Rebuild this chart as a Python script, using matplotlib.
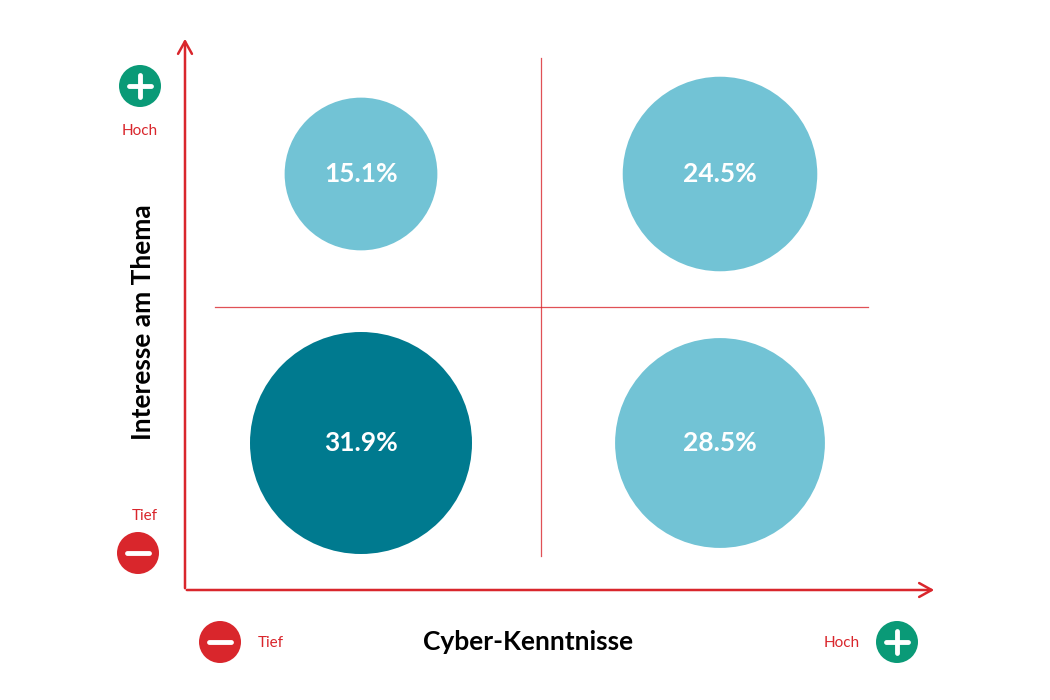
import matplotlib.pyplot as plt
from matplotlib.patches import Circle

# quadrant data: (column, row) -> share
labels = ["15.1%", "24.5%", "31.9%", "28.5%"]
values = [15.1, 24.5, 31.9, 28.5]
cols = [0, 1, 0, 1]   # 0 = Tief, 1 = Hoch (Cyber-Kenntnisse)
rows = [0, 0, 1, 1]   # 0 = Hoch, 1 = Tief (Interesse am Thema)
highlight = [False, False, True, False]

x_title = "Cyber-Kenntnisse"
y_title = "Interesse am Thema"
low_label = "Tief"
high_label = "Hoch"

RED = "#D9262C"
GREEN = "#0A9A77"
LIGHT = "#72C3D5"
DARK = "#007A8F"

col_px = [361, 720]
row_px = [174, 443]

fig = plt.figure(figsize=(10.5, 7), dpi=100)
ax = fig.add_axes([0, 0, 1, 1])
ax.set_xlim(0, 1050)
ax.set_ylim(700, 0)
ax.set_aspect("equal")
ax.axis("off")

# main arrows
ax.annotate("", xy=(185, 36), xytext=(185, 591),
            arrowprops=dict(arrowstyle="->,head_length=0.9,head_width=0.5", color=RED, lw=1.8))
ax.annotate("", xy=(937, 590), xytext=(184, 590),
            arrowprops=dict(arrowstyle="->,head_length=0.9,head_width=0.5", color=RED, lw=1.8))

# quadrant dividers
ax.plot([541, 541], [58, 556], color=RED, lw=0.9, alpha=0.8)
ax.plot([215, 868], [307, 307], color=RED, lw=0.9, alpha=0.8)

k = 111 / values[2] ** 0.5
for lab, v, c, r, h in zip(labels, values, cols, rows, highlight):
    cx, cy = col_px[c], row_px[r]
    ax.add_patch(Circle((cx, cy), k * v ** 0.5, color=DARK if h else LIGHT, lw=0))
    ax.text(cx, cy, lab, ha="center", va="center", color="white",
            fontsize=19, fontweight="bold", family="Lato")


def badge(x, y, color, plus):
    ax.add_patch(Circle((x, y), 21, color=color, lw=0))
    ax.plot([x - 11, x + 11], [y, y], color="white", lw=3.5, solid_capstyle="round")
    if plus:
        ax.plot([x, x], [y - 11, y + 11], color="white", lw=3.5, solid_capstyle="round")


badge(140, 86, GREEN, True)
badge(138, 553, RED, False)
badge(220, 642, RED, False)
badge(897, 642, GREEN, True)

small = dict(color=RED, fontsize=11, family="Lato", va="center")
ax.text(140, 131, high_label, ha="center", **small)
ax.text(145, 516, low_label, ha="center", **small)
ax.text(258, 643, low_label, ha="left", **small)
ax.text(860, 643, high_label, ha="right", **small)

ax.text(528, 642, x_title, ha="center", va="center", fontsize=19,
        fontweight="bold", family="Lato", color="black")
ax.text(143, 322, y_title, ha="center", va="center", rotation=90, fontsize=19,
        fontweight="bold", family="Lato", color="black")

fig.savefig("out.png", dpi=100, facecolor="white")
